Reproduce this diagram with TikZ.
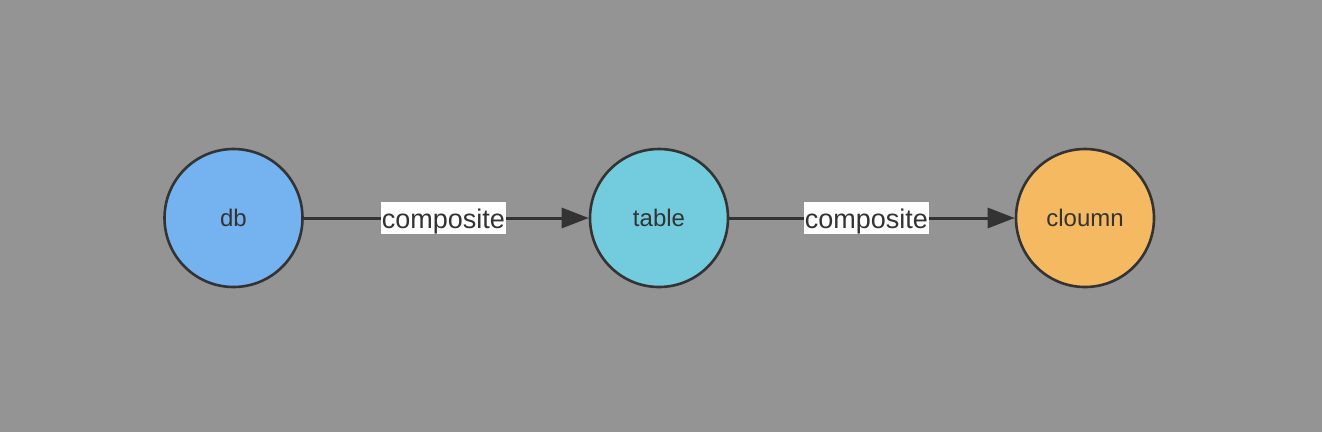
\documentclass[tikz,border=0pt]{standalone}
\usepackage{fontspec}
\setmainfont{Liberation Sans}
\usetikzlibrary{arrows.meta}
\definecolor{bg}{HTML}{949494}
\definecolor{ink}{HTML}{333333}
\definecolor{cdb}{HTML}{74B2F0}
\definecolor{ctable}{HTML}{72CCDD}
\definecolor{ccol}{HTML}{F5B961}
\begin{document}
\begin{tikzpicture}[x=1pt,y=-1pt,
  ent/.style={circle,draw=ink,line width=2.6pt,minimum size=138pt,inner sep=0pt,
    text=ink,font=\fontsize{24}{28}\selectfont},
  rel/.style={draw=ink,line width=3pt,-{Triangle[length=27pt,width=20pt]}},
  lab/.style={fill=white,text=ink,inner xsep=1pt,inner ysep=2pt,text height=24pt,text depth=4pt,
    font=\fontsize{27}{30}\selectfont}]
\fill[bg] (0,0) rectangle (1322,432);
\useasboundingbox (0,0) rectangle (1322,432);
\node[ent,fill=cdb] (db) at (233.5,218) {db};
\node[ent,fill=ctable] (table) at (659,218) {table};
\node[ent,fill=ccol] (col) at (1085,218) {cloumn};
\draw[rel] (db) -- node[lab,pos=0.49] {composite} (table);
\draw[rel] (table) -- node[lab,pos=0.48] {composite} (col);
\end{tikzpicture}
\end{document}
